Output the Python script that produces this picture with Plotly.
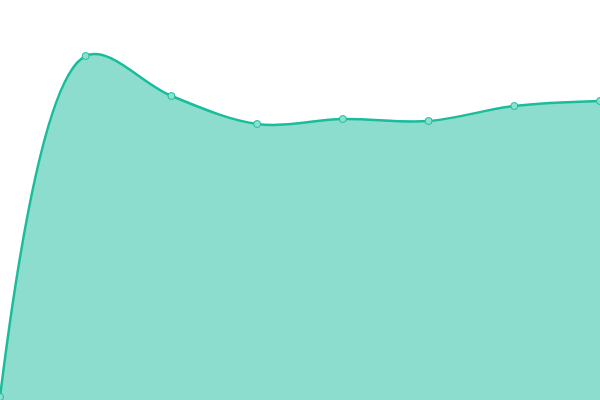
import plotly.graph_objects as go

x_vals = [0, 1, 2, 3, 4, 5, 6, 7]
y_vals = [3, 344, 304, 276, 281, 279, 294, 299]

fig = go.Figure()
fig.add_trace(go.Scatter(
    x=x_vals, y=y_vals,
    mode="lines+markers",
    fill="tozeroy",
    fillcolor="rgba(26,188,156,0.5)",
    line=dict(color="#1abc9c", width=2.5, shape="spline", smoothing=1.0),
    marker=dict(size=7, color="#8ce0cf", line=dict(color="#1abc9c", width=1)),
    cliponaxis=False,
))
fig.update_layout(
    width=600, height=400,
    margin=dict(l=0, r=0, t=0, b=0),
    paper_bgcolor="white", plot_bgcolor="white",
    showlegend=False,
)
fig.update_xaxes(visible=False, range=[0, 7])
fig.update_yaxes(visible=False, range=[0, 400])
# page body has a default margin, drop it so the chart sits at the corner
fig.write_html("out.html", config={"displayModeBar": False},
               post_script="document.body.style.margin='0';")
